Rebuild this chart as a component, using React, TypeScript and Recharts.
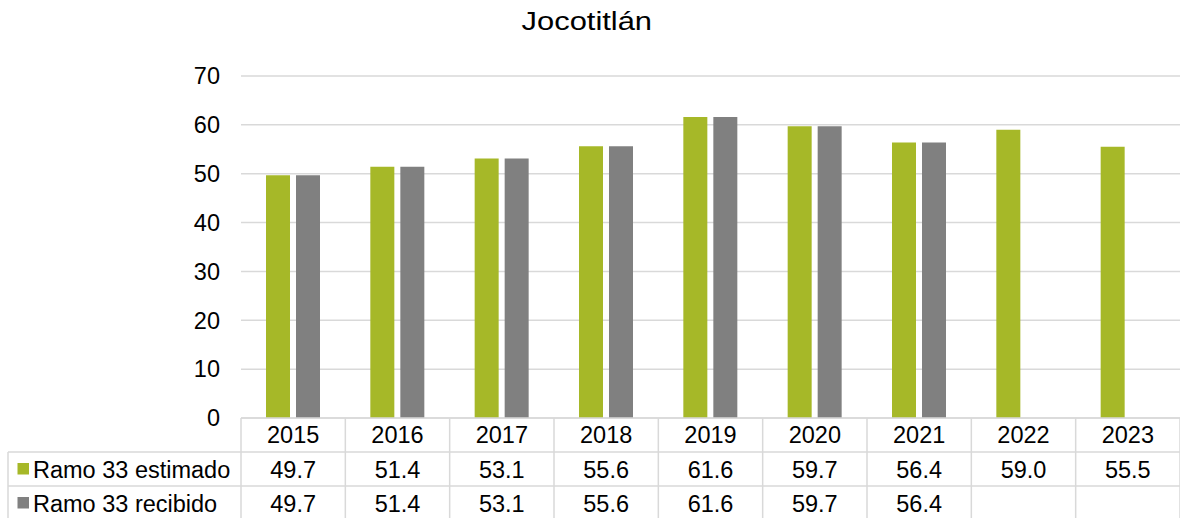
import React from 'react';
import { BarChart, Bar, XAxis, YAxis, CartesianGrid } from 'recharts';

const years = ['2015', '2016', '2017', '2018', '2019', '2020', '2021', '2022', '2023'];
const estimado = [49.7, 51.4, 53.1, 55.6, 61.6, 59.7, 56.4, 59.0, 55.5];
const recibido: (number | null)[] = [49.7, 51.4, 53.1, 55.6, 61.6, 59.7, 56.4, null, null];
const seriesNames = ['Ramo 33 estimado', 'Ramo 33 recibido'];
const yTicks = [0, 10, 20, 30, 40, 50, 60, 70];
const title = 'Jocotitlán';

const GREEN = '#A6B828';
const GRAY = '#808080';
const LINE = '#D9D9D9';
const FONT = '"Liberation Sans", Arial, sans-serif';
const FS = 23.5;

const W = 1180;
const H = 518;
const Y_AXIS_W = 241;
const TABLE_LEFT = 8;
const ROW = 34;

const data = years.map((y, i) => ({ year: y, estimado: estimado[i], recibido: recibido[i] }));

const fmt = (v: number | null | undefined) => (v == null ? '' : v.toFixed(1));

const TableTick = (props: any) => {
  const { x, y, payload, index } = props;
  const half = payload && payload.offset ? payload.offset : (W - Y_AXIS_W) / years.length / 2;
  const left = x - half;
  const right = x + half;
  const i = index;
  const rows = [estimado, recibido];
  return (
    <g>
      <line x1={right} y1={y} x2={right} y2={y + ROW * 3} stroke={LINE} strokeWidth={1.5} />
      {i === 0 && (
        <g>
          <line x1={left} y1={y} x2={left} y2={y + ROW * 3} stroke={LINE} strokeWidth={1.5} />
          <line x1={TABLE_LEFT} y1={y + ROW} x2={left + half * 2 * years.length} y2={y + ROW} stroke={LINE} strokeWidth={1.5} />
          <line x1={TABLE_LEFT} y1={y + ROW * 2} x2={left + half * 2 * years.length} y2={y + ROW * 2} stroke={LINE} strokeWidth={1.5} />
          <line x1={TABLE_LEFT} y1={y + ROW} x2={TABLE_LEFT} y2={y + ROW * 3} stroke={LINE} strokeWidth={1.5} />
          {seriesNames.map((n, r) => (
            <g key={n}>
              <rect x={TABLE_LEFT + 9.5} y={y + ROW * (r + 1) + 11} width={11.5} height={11.5} fill={r === 0 ? GREEN : GRAY} />
              <text x={TABLE_LEFT + 25} y={y + ROW * (r + 1) + 26} fontSize={FS} fontFamily={FONT} fill="#000">{n}</text>
            </g>
          ))}
        </g>
      )}
      <text x={x} y={y + 25} textAnchor="middle" fontSize={FS} fontFamily={FONT} fill="#000">{payload.value}</text>
      {rows.map((arr, r) => (
        <text key={r} x={x} y={y + ROW * (r + 1) + 26} textAnchor="middle" fontSize={FS} fontFamily={FONT} fill="#000">
          {fmt(arr[i])}
        </text>
      ))}
    </g>
  );
};

export default function App() {
  return (
    <div style={{ position: 'absolute', left: 0, top: 0, width: W, height: H, background: '#fff', fontFamily: FONT }}>
      <div style={{ position: 'absolute', left: -3, top: 9, width: W, textAlign: 'center', fontSize: 25, lineHeight: '25px', color: '#000' }}>
        <span style={{ display: 'inline-block', transform: 'scaleX(1.235)' }}>{title}</span>
      </div>
      <BarChart
        width={W}
        height={H}
        data={data}
        margin={{ top: 76, right: 0, bottom: 0, left: 0 }}
        barSize={24}
        barGap={6}
      >
        <CartesianGrid vertical={false} stroke={LINE} strokeWidth={1.5} />
        <YAxis
          domain={[0, 70]}
          ticks={yTicks}
          width={Y_AXIS_W}
          axisLine={false}
          tickLine={false}
          tickSize={0}
          tickMargin={21}
          tick={{ fontSize: FS, fontFamily: FONT, fill: '#000' }}
        />
        <XAxis
          dataKey="year"
          height={100}
          interval={0}
          axisLine={{ stroke: LINE, strokeWidth: 1.5 }}
          tickLine={false}
          tickSize={0}
          tickMargin={0}
          tick={<TableTick />}
        />
        <Bar dataKey="estimado" fill={GREEN} isAnimationActive={false} />
        <Bar dataKey="recibido" fill={GRAY} isAnimationActive={false} />
      </BarChart>
    </div>
  );
}
